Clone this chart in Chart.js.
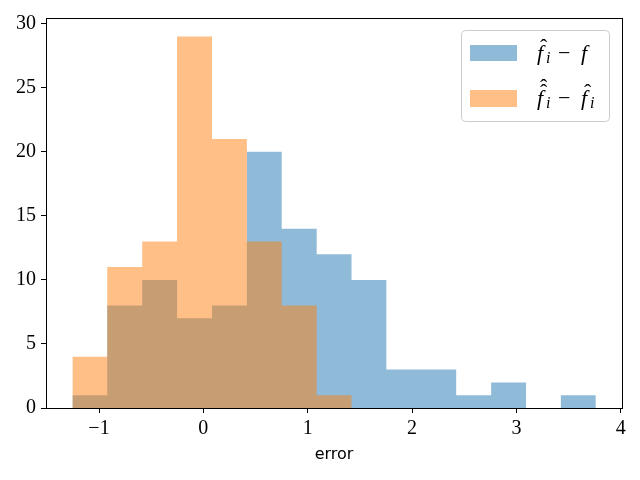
<!DOCTYPE html>
<html>
<head>
<meta charset="utf-8">
<script src="https://cdn.jsdelivr.net/npm/chart.js@4.4.1/dist/chart.umd.min.js"></script>
<style>
  html, body { margin: 0; padding: 0; background: #fff; }
</style>
</head>
<body>
<canvas id="histChart" width="640" height="480"></canvas>
<script>
// histogram bin edges and counts
const binEdges = [-1.255, -0.921, -0.586, -0.252, 0.083, 0.417, 0.751, 1.086, 1.420, 1.754, 2.089, 2.423, 2.758, 3.092, 3.426, 3.761];
const countsTrue = [1, 8, 10, 7, 8, 20, 14, 12, 10, 3, 3, 1, 2, 0, 1];
const countsEst = [4, 11, 13, 29, 21, 13, 8, 1, 0, 0, 0, 0, 0, 0, 0];
const xTicks = [-1, 0, 1, 2, 3, 4];
const yTicks = [0, 5, 10, 15, 20, 25, 30];
const xTitle = 'error';

const blue = 'rgba(31,119,180,0.5)';
const orange = 'rgba(255,127,14,0.5)';
const tickFont = { family: '"Liberation Serif", serif', size: 20 };

// each bin as a flat step: value held from its left edge to the next edge
function histPoints(counts) {
  return binEdges.map((e, i) => ({ x: e, y: counts[Math.min(i, counts.length - 1)] }));
}

// full box round the plot, like matplotlib spines
const framePlugin = {
  id: 'frame',
  afterDraw(chart) {
    const { ctx, chartArea: a } = chart;
    ctx.save();
    ctx.strokeStyle = '#000';
    ctx.lineWidth = 1;
    ctx.strokeRect(Math.round(a.left) + 0.5, Math.round(a.top) + 0.5,
      Math.round(a.right - a.left), Math.round(a.bottom - a.top));
    ctx.restore();
  }
};

// f with hat(s) and subscript i
function drawHatF(ctx, x, y, hats, sub) {
  ctx.font = 'italic 22px "Liberation Serif", serif';
  ctx.fillText('f', x, y);
  ctx.font = '22px "Liberation Serif", serif';
  for (let h = 0; h < hats; h++) {
    ctx.fillText('\u02C6', x + 3, y - 6 - h * 5);
  }
  if (sub) {
    ctx.font = 'italic 16px "Liberation Serif", serif';
    ctx.fillText('i', x + 9, y + 3);
  }
}

const legendPlugin = {
  id: 'mplLegend',
  afterDraw(chart) {
    const ctx = chart.ctx;
    ctx.save();
    const bx = 461.5, by = 30.5, bw = 148, bh = 91, r = 4;
    ctx.beginPath();
    ctx.moveTo(bx + r, by);
    ctx.arcTo(bx + bw, by, bx + bw, by + bh, r);
    ctx.arcTo(bx + bw, by + bh, bx, by + bh, r);
    ctx.arcTo(bx, by + bh, bx, by, r);
    ctx.arcTo(bx, by, bx + bw, by, r);
    ctx.closePath();
    ctx.fillStyle = 'rgba(255,255,255,0.8)';
    ctx.fill();
    ctx.strokeStyle = '#cccccc';
    ctx.lineWidth = 1;
    ctx.stroke();

    ctx.fillStyle = blue;
    ctx.fillRect(470, 45, 47, 16);
    ctx.fillStyle = orange;
    ctx.fillRect(470, 90, 47, 17);

    ctx.fillStyle = '#000';
    ctx.textBaseline = 'alphabetic';
    ctx.textAlign = 'left';
    drawHatF(ctx, 537, 60, 1, true);
    ctx.font = '22px "Liberation Serif", serif';
    ctx.fillText('\u2212', 558, 60);
    ctx.font = 'italic 22px "Liberation Serif", serif';
    ctx.fillText('f', 581, 60);

    drawHatF(ctx, 537, 105, 2, true);
    ctx.font = '22px "Liberation Serif", serif';
    ctx.fillText('\u2212', 558, 105);
    drawHatF(ctx, 581, 105, 1, true);
    ctx.restore();
  }
};

const ctx = document.getElementById('histChart').getContext('2d');
new Chart(ctx, {
  type: 'line',
  data: {
    datasets: [{
      label: 'f\u0302\u1D62 \u2212 f',
      data: histPoints(countsTrue),
      backgroundColor: blue,
      order: 1
    }, {
      label: 'f\u0302\u0302\u1D62 \u2212 f\u0302\u1D62',
      data: histPoints(countsEst),
      backgroundColor: orange,
      order: 0
    }]
  },
  options: {
    responsive: false,
    animation: false,
    datasets: {
      line: {
        stepped: 'before',
        fill: 'origin',
        borderWidth: 0,
        borderColor: 'rgba(0,0,0,0)',
        pointRadius: 0,
        pointHoverRadius: 0
      }
    },
    layout: { padding: { left: 0, right: 18, top: 18, bottom: 0 } },
    scales: {
      x: {
        type: 'linear',
        min: -1.508,
        max: 4.012,
        offset: false,
        afterBuildTicks: axis => { axis.ticks = xTicks.map(v => ({ value: v })); },
        afterFit: axis => { axis.height = 72; },
        border: { display: false },
        grid: { display: true, offset: false, drawOnChartArea: false, drawTicks: true, tickLength: 5, color: '#000' },
        ticks: {
          color: '#000',
          font: tickFont,
          padding: 4,
          maxRotation: 0,
          callback: v => String(v).replace('-', '\u2212')
        },
        title: {
          display: true,
          text: xTitle,
          color: '#000',
          font: { family: '"DejaVu Sans", sans-serif', size: 16 },
          padding: { top: 0, bottom: 16 }
        }
      },
      y: {
        min: 0,
        max: 30.45,
        afterBuildTicks: axis => { axis.ticks = yTicks.map(v => ({ value: v })); },
        afterFit: axis => { axis.width = 46; },
        border: { display: false },
        grid: { display: true, drawOnChartArea: false, drawTicks: true, tickLength: 5, color: '#000' },
        ticks: { color: '#000', font: tickFont, padding: 5 }
      }
    },
    plugins: {
      legend: { display: false },
      tooltip: { enabled: false }
    }
  },
  plugins: [framePlugin, legendPlugin]
});
</script>
</body>
</html>
